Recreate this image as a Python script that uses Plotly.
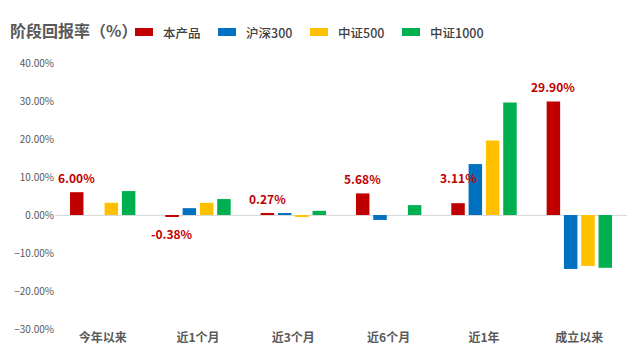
import plotly.graph_objects as go

categories = ["今年以来", "近1个月", "近3个月", "近6个月", "近1年", "成立以来"]
product = [6.00, -0.38, 0.27, 5.68, 3.11, 29.90]
hs300 = [0.0, 1.8, 0.3, -1.3, 13.4, -14.2]
zz500 = [3.2, 3.2, -0.4, 0.0, 19.6, -13.4]
zz1000 = [6.3, 4.2, 1.1, 2.6, 29.6, -13.9]
series_names = ["本产品", "沪深300", "中证500", "中证1000"]
colors = ["#C00000", "#0070C0", "#FFC000", "#00B050"]

FONT = "Noto Sans CJK SC, Microsoft YaHei, sans-serif"
GRAY = "#595959"

W, H = 640, 361
ML, MR, MT, MB = 55, 13, 63, 32
PW, PH = W - ML - MR, H - MT - MB


def px_x(x):
    return (x - ML) / PW


def px_y(y):
    return (H - MB - y) / PH


fig = go.Figure()
for name, vals, col in zip(series_names, [product, hs300, zz500, zz1000], colors):
    fig.add_trace(go.Bar(name=name, x=categories, y=vals, marker_color=col,
                         marker_line_width=0, showlegend=False))

# value labels for 本产品
extra_shift = [0, 0, 0, 0, 11, 0]
for cat, v, es in zip(categories, product, extra_shift):
    fig.add_annotation(x=cat, y=v, text=f"{v:.2f}%", showarrow=False,
                       xshift=-26, yshift=(15 + es) if v >= 0 else -17,
                       font=dict(family=FONT, size=12, color="#C00000", weight="bold"))

# title
fig.add_annotation(text="阶段回报率（%）", xref="paper", yref="paper", x=px_x(8), y=px_y(30),
                   xanchor="left", yanchor="middle", showarrow=False,
                   font=dict(family=FONT, size=16, color=GRAY, weight="bold"))

# custom legend (wide rectangles as in reference)
legend_icon_left = [135, 218, 310, 402]
for name, col, lx in zip(series_names, colors, legend_icon_left):
    fig.add_shape(type="rect", xref="paper", yref="paper",
                  x0=px_x(lx), x1=px_x(lx + 18), y0=px_y(36), y1=px_y(28),
                  fillcolor=col, line_width=0)
    fig.add_annotation(text=name, xref="paper", yref="paper", x=px_x(lx + 26), y=px_y(32.5),
                       xanchor="left", yanchor="middle", showarrow=False,
                       font=dict(family=FONT, size=12.5, color="#404040", weight=500))

fig.update_layout(
    width=W, height=H,
    margin=dict(l=ML, r=MR, t=MT, b=MB),
    paper_bgcolor="white", plot_bgcolor="white",
    barmode="group", bargap=0.274, bargroupgap=0.22,
    showlegend=False,
    font=dict(family=FONT, color=GRAY),
)

fig.update_yaxes(range=[-30, 40], dtick=10, tickformat=".2f", ticksuffix="%",
                 showgrid=False, zeroline=True, zerolinecolor="#D9D9D9", zerolinewidth=1,
                 tickfont=dict(family=FONT, size=10, color=GRAY), showline=False)
fig.update_xaxes(showgrid=False, showline=False, ticks="",
                 tickfont=dict(family=FONT, size=12, color=GRAY, weight="bold"))

fig.write_html("out.html", config={"displayModeBar": False},
               post_script="document.body.style.margin='0';")
